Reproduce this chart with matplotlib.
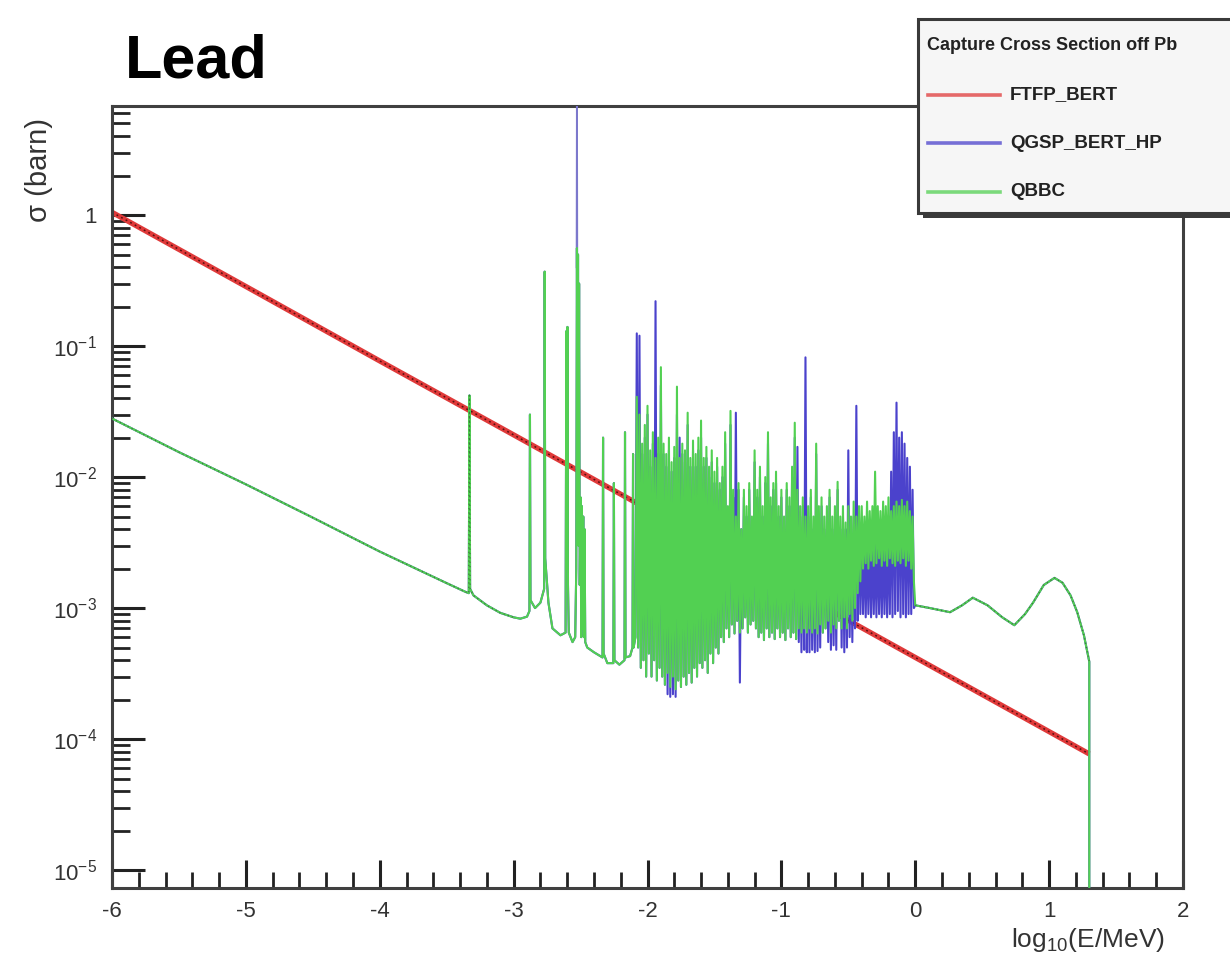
import numpy as np
import matplotlib
matplotlib.use("Agg")
import matplotlib.pyplot as plt
from matplotlib.ticker import MultipleLocator, FixedLocator, NullFormatter, FuncFormatter
from matplotlib.lines import Line2D
from matplotlib.patches import Rectangle

plt.rcParams['font.family'] = ['Liberation Sans', 'DejaVu Sans']
plt.rcParams['axes.unicode_minus'] = False
plt.rcParams['mathtext.fontset'] = 'custom'
plt.rcParams['mathtext.rm'] = 'Liberation Sans'
plt.rcParams['mathtext.it'] = 'Liberation Sans:italic'
plt.rcParams['mathtext.default'] = 'regular'

# ---------------- data: log10(E/MeV) and sigma in barn ----------------
# FTFP_BERT: smooth 1/v-like capture cross section
ftfp_x = [-6.0, -5.0, -4.0, -3.0, -2.0, -1.0, 0.0, 1.0, 1.3]
ftfp_y = [1.05, 0.285, 0.077, 0.021, 0.0057, 0.00155, 0.00042, 0.000114, 0.000077]

# thermal / epithermal part common to QGSP_BERT_HP and QBBC
low_x = [-6.0, -5.5, -5.0, -4.5, -4.0, -3.5, -3.36, -3.335, -3.33, -3.325,
         -3.30, -3.2, -3.1, -3.0]
low_y = [0.028, 0.0155, 0.0088, 0.0049, 0.0027, 0.00155, 0.00133, 0.0013, 0.042, 0.0014,
         0.00125, 0.00105, 0.00092, 0.00085]

# first resolved resonances, common to both lists
shared_x = [-2.95, -2.90, -2.882, -2.878, -2.874, -2.84, -2.80, -2.772, -2.768, -2.764,
            -2.74, -2.71, -2.65, -2.612, -2.606, -2.602, -2.598, -2.594, -2.588, -2.56,
            -2.54, -2.532, -2.527, -2.523, -2.519, -2.515, -2.511, -2.506, -2.500, -2.495,
            -2.490, -2.485, -2.480, -2.475, -2.470, -2.465, -2.45, -2.40, -2.336, -2.332,
            -2.328, -2.30, -2.255, -2.251, -2.247, -2.21, -2.172, -2.168, -2.164, -2.13,
            -2.112, -2.108, -2.104, -2.09]
shared_y = [8.3e-4, 8.6e-4, 9.5e-4, 0.03, 1.15e-3, 1.0e-3, 1.1e-3, 1.4e-3, 0.37, 2.4e-3,
            1.1e-3, 7.0e-4, 6.2e-4, 6.5e-4, 0.13, 2.0e-3, 0.14, 1.5e-3, 6.5e-4, 5.5e-4,
            6.0e-4, 2.0e-3, 0.56, 4.0e-3, 0.50, 3.0e-3, 0.30, 1.5e-3, 7.0e-3, 6.0e-4,
            6.0e-3, 7.0e-4, 5.0e-3, 6.0e-4, 4.0e-3, 5.5e-4, 5.0e-4, 4.6e-4, 4.2e-4, 0.020,
            4.5e-4, 3.8e-4, 3.8e-4, 9.0e-3, 4.0e-4, 3.7e-4, 4.0e-4, 0.022, 4.2e-4, 4.3e-4,
            5.0e-4, 0.015, 5.0e-4, 6.0e-4]

# QGSP_BERT_HP narrow resonance at -2.527
qgsp_spike_x = [-2.529, -2.527, -2.525]
qgsp_spike_y = [0.4, 7.0, 0.4]

# dense resonance region, sampled on a common energy grid
res_c_x = [-2.08, -2.07, -2.06, -2.05, -2.04, -2.03, -2.02, -2.01, -2.00, -1.99,
           -1.98, -1.97, -1.96, -1.95, -1.94, -1.93, -1.92, -1.91, -1.90, -1.89,
           -1.88, -1.87, -1.86, -1.85, -1.84, -1.83, -1.82, -1.81, -1.80, -1.79,
           -1.78, -1.77, -1.76, -1.75, -1.74, -1.73, -1.72, -1.71, -1.70, -1.69,
           -1.68, -1.67, -1.66, -1.65, -1.64, -1.63, -1.62, -1.61]
qbbc_c_y = [0.041, 5e-4, 0.03, 3.5e-4, 0.018, 4e-4, 0.025, 3e-4, 0.035, 4.5e-4,
            0.016, 3e-4, 0.022, 4e-4, 0.014, 2.8e-4, 0.02, 3.5e-4, 0.069, 3e-4,
            0.018, 2.6e-4, 0.015, 3.2e-4, 0.02, 2.5e-4, 0.013, 3e-4, 0.017, 2.4e-4,
            0.049, 2.8e-4, 0.014, 2.5e-4, 0.018, 3e-4, 0.016, 2.6e-4, 0.031, 3.2e-4,
            0.014, 2.7e-4, 0.019, 3.5e-4, 0.015, 3e-4, 0.02, 3.8e-4]
qgsp_c_y = [0.125, 5e-4, 0.12, 3.5e-4, 0.015, 4e-4, 0.02, 3e-4, 0.03, 4.5e-4,
            0.012, 3e-4, 0.018, 4e-4, 0.22, 2.8e-4, 0.015, 3.5e-4, 0.05, 3e-4,
            0.015, 2.6e-4, 0.012, 2.2e-4, 0.016, 2.1e-4, 0.011, 2.2e-4, 0.014, 2.1e-4,
            0.03, 2.8e-4, 0.02, 2.5e-4, 0.015, 3e-4, 0.013, 2.6e-4, 0.025, 3.2e-4,
            0.012, 2.7e-4, 0.016, 3.5e-4, 0.012, 3e-4, 0.016, 3.8e-4]

res_d_x = [-1.60, -1.59, -1.58, -1.57, -1.56, -1.55, -1.54, -1.53, -1.52, -1.51,
           -1.50, -1.49, -1.48, -1.47, -1.46, -1.45, -1.44, -1.43, -1.42, -1.41,
           -1.40, -1.39, -1.38, -1.37, -1.36, -1.35, -1.34, -1.33, -1.32, -1.31,
           -1.30, -1.29, -1.28, -1.27, -1.26, -1.25, -1.24, -1.23, -1.22, -1.21]
qbbc_d_y = [0.027, 3.5e-4, 0.014, 4e-4, 0.017, 3.2e-4, 0.012, 4.5e-4, 0.016, 3.8e-4,
            0.011, 5e-4, 0.014, 4.5e-4, 0.009, 6e-4, 0.012, 5.5e-4, 0.022, 7e-4,
            0.006, 6e-4, 0.032, 7.5e-4, 0.008, 6.4e-4, 0.005, 8e-4, 0.009, 6.5e-4,
            0.004, 7e-4, 0.008, 8.5e-4, 0.006, 6.5e-4, 0.009, 7.5e-4, 0.005, 8e-4]
qgsp_d_y = [0.02, 3.5e-4, 0.012, 4e-4, 0.014, 3.2e-4, 0.01, 4.5e-4, 0.013, 3.8e-4,
            0.009, 5e-4, 0.012, 4.5e-4, 0.008, 6e-4, 0.01, 5.5e-4, 0.018, 7e-4,
            0.005, 6e-4, 0.025, 7.5e-4, 0.007, 6.4e-4, 0.031, 8e-4, 0.008, 2.7e-4,
            0.004, 7e-4, 0.007, 8.5e-4, 0.005, 6.5e-4, 0.008, 7.5e-4, 0.004, 8e-4]

res_e_x = [-1.20, -1.19, -1.18, -1.17, -1.16, -1.15, -1.14, -1.13, -1.12, -1.11,
           -1.10, -1.09, -1.08, -1.07, -1.06, -1.05, -1.04, -1.03, -1.02, -1.01,
           -1.00, -0.99, -0.98, -0.97, -0.96, -0.95, -0.94, -0.93, -0.92, -0.91,
           -0.90, -0.89, -0.88, -0.87, -0.86, -0.85, -0.84, -0.83, -0.82, -0.81]
qbbc_e_y = [0.016, 7e-4, 0.008, 6e-4, 0.012, 6.5e-4, 0.006, 5.7e-4, 0.01, 7e-4,
            0.022, 6e-4, 0.007, 6.5e-4, 0.009, 5.8e-4, 0.011, 7e-4, 0.006, 6e-4,
            0.008, 6.5e-4, 0.005, 5.7e-4, 0.009, 7e-4, 0.007, 6e-4, 0.012, 6.5e-4,
            0.026, 5.8e-4, 0.008, 7e-4, 0.006, 6.5e-4, 0.007, 7e-4, 0.005, 6.5e-4]
qgsp_e_y = [0.013, 7e-4, 0.007, 6e-4, 0.01, 6.5e-4, 0.005, 5.7e-4, 0.009, 7e-4,
            0.018, 6e-4, 0.006, 6.5e-4, 0.008, 5.8e-4, 0.009, 7e-4, 0.005, 6e-4,
            0.007, 6.5e-4, 0.004, 5.7e-4, 0.008, 7e-4, 0.006, 6e-4, 0.01, 6.5e-4,
            0.02, 5.8e-4, 0.017, 5.5e-4, 0.005, 4.6e-4, 0.006, 4.8e-4, 0.082, 4.6e-4]

res_f_x = [-0.80, -0.79, -0.78, -0.77, -0.76, -0.75, -0.74, -0.73, -0.72, -0.71,
           -0.70, -0.69, -0.68, -0.67, -0.66, -0.65, -0.64, -0.63, -0.62, -0.61,
           -0.60, -0.59, -0.58, -0.57, -0.56, -0.55, -0.54, -0.53, -0.52, -0.51,
           -0.50, -0.49, -0.48, -0.47, -0.46, -0.45, -0.44, -0.43, -0.42, -0.41]
qbbc_f_y = [0.006, 7e-4, 0.008, 6.5e-4, 0.005, 7e-4, 0.018, 6.4e-4, 0.006, 7.5e-4,
            0.007, 6.5e-4, 0.005, 7e-4, 0.006, 8e-4, 0.008, 6.5e-4, 0.005, 7.5e-4,
            0.006, 7e-4, 0.0092, 8e-4, 0.005, 7e-4, 0.006, 8.5e-4, 0.0045, 7e-4,
            0.006, 9e-4, 0.005, 8e-4, 0.0065, 1.0e-3, 0.005, 1.3e-3, 0.006, 1.6e-3]
qgsp_f_y = [0.005, 4.6e-4, 0.007, 4.8e-4, 0.004, 4.6e-4, 0.015, 4.7e-4, 0.005, 5e-4,
            0.006, 6.5e-4, 0.004, 7e-4, 0.005, 5.5e-4, 0.007, 4.8e-4, 0.004, 5.2e-4,
            0.005, 4.8e-4, 0.008, 8e-4, 0.004, 5e-4, 0.005, 4.6e-4, 0.004, 5e-4,
            0.016, 6e-4, 0.004, 5.5e-4, 0.005, 7e-4, 0.035, 8e-4, 0.005, 9e-4]

res_g_x = [-0.40, -0.39, -0.38, -0.37, -0.36, -0.35, -0.34, -0.33, -0.32, -0.31,
           -0.30, -0.29, -0.28, -0.27, -0.26, -0.25, -0.24, -0.23, -0.22, -0.21,
           -0.20, -0.19, -0.18, -0.17, -0.16, -0.15, -0.14, -0.13, -0.12, -0.11,
           -0.10, -0.09, -0.08, -0.07, -0.06, -0.05, -0.04, -0.03, -0.02, -0.01]
qbbc_g_y = [0.006, 2.0e-3, 0.005, 2.2e-3, 0.0065, 2.0e-3, 0.0055, 2.3e-3, 0.006, 2.1e-3,
            0.011, 2.2e-3, 0.006, 2.4e-3, 0.0055, 2.1e-3, 0.0065, 2.3e-3, 0.006, 2.1e-3,
            0.007, 2.4e-3, 0.0055, 2.2e-3, 0.006, 2.1e-3, 0.0065, 2.3e-3, 0.006, 2.2e-3,
            0.0067, 2.4e-3, 0.006, 2.1e-3, 0.0065, 2.3e-3, 0.0055, 2.0e-3, 0.005, 1.6e-3]
qgsp_g_y = [0.004, 9e-4, 0.0037, 8.5e-4, 0.0035, 9e-4, 0.004, 8.5e-4, 0.0037, 9e-4,
            0.0035, 8.5e-4, 0.004, 9e-4, 0.0037, 8.5e-4, 0.004, 9e-4, 0.0037, 8.5e-4,
            0.005, 9e-4, 0.011, 8.5e-4, 0.022, 9e-4, 0.037, 9.5e-4, 0.02, 8.5e-4,
            0.022, 9e-4, 0.018, 8.5e-4, 0.014, 9e-4, 0.012, 9e-4, 0.008, 1e-3]

# fast-neutron region, common to both lists
high_x = [0.0, 0.11, 0.26, 0.35, 0.43, 0.54, 0.65, 0.74, 0.82, 0.88,
          0.96, 1.04, 1.10, 1.16, 1.21, 1.26, 1.30, 1.30]
high_y = [1.05e-3, 1.0e-3, 9.3e-4, 1.05e-3, 1.2e-3, 1.05e-3, 8.5e-4, 7.4e-4, 9.0e-4, 1.1e-3,
          1.5e-3, 1.7e-3, 1.56e-3, 1.25e-3, 9.3e-4, 6.2e-4, 3.9e-4, 1e-6]

series_names = ['FTFP_BERT', 'QGSP_BERT_HP', 'QBBC']
series_colors = ['#e03a3a', '#4b42cc', '#52d052']
legend_title = 'Capture Cross Section off Pb'
y_decades = [1e-5, 1e-4, 1e-3, 1e-2, 1e-1, 1.0]

# ---------------- assemble the two resonance curves ----------------
res_x = res_c_x + res_d_x + res_e_x + res_f_x + res_g_x
qbbc_x = low_x + shared_x + res_x + high_x
qbbc_y = low_y + shared_y + qbbc_c_y + qbbc_d_y + qbbc_e_y + qbbc_f_y + qbbc_g_y + high_y
qgsp_x = low_x + shared_x + res_x + high_x
qgsp_y = low_y + shared_y + qgsp_c_y + qgsp_d_y + qgsp_e_y + qgsp_f_y + qgsp_g_y + high_y

# ---------------- figure ----------------
W, H = 1230, 963
PX = 72 / 100  # points per pixel at 100 dpi
fig = plt.figure(figsize=(W / 100, H / 100), dpi=100)
ax = fig.add_axes([112 / W, 1 - 888 / H, (1183 - 112) / W, (888 - 106) / H])

ax.plot(ftfp_x, ftfp_y, color=series_colors[0], lw=3.8, zorder=2, solid_capstyle='butt')
ax.plot(ftfp_x, ftfp_y, color='#5a1010', lw=1.1, ls=(0, (1.2, 2.2)), zorder=2.1)
ax.plot(qgsp_x, qgsp_y, color=series_colors[1], lw=1.5, zorder=3)
ax.plot(qgsp_spike_x, qgsp_spike_y, color='#7c78cc', lw=1.4, zorder=3)
ax.plot(qbbc_x, qbbc_y, color=series_colors[2], lw=1.5, zorder=4)
ax.plot(low_x, low_y, color='#3d7a3d', lw=0.9, ls=(0, (1, 2.5)), zorder=4.1)
ax.plot(high_x[:-1], high_y[:-1], color='#3d7a3d', lw=0.9, ls=(0, (1, 2.5)), zorder=4.1)

ax.set_xlim(-6, 2)
ax.set_yscale('log')
ax.set_ylim(7.3e-6, 6.8)

ax.xaxis.set_major_locator(MultipleLocator(1))
ax.xaxis.set_minor_locator(MultipleLocator(0.2))
ax.yaxis.set_major_locator(FixedLocator(y_decades))
minor_y = [m * d for d in y_decades for m in range(2, 10) if m * d < 6.8]
ax.yaxis.set_minor_locator(FixedLocator(minor_y))
ax.yaxis.set_minor_formatter(NullFormatter())


def decade_label(v, pos):
    e = int(round(np.log10(v)))
    return '1' if e == 0 else r'$10^{%d}$' % e


ax.yaxis.set_major_formatter(FuncFormatter(decade_label))
ax.xaxis.set_major_formatter(FuncFormatter(lambda v, p: '%d' % round(v)))

ax.tick_params(axis='both', which='both', direction='in', top=False, right=False,
               color='#222222', labelcolor='#333333', labelsize=16)
ax.tick_params(axis='x', which='major', length=28 * PX, width=2.2, pad=9)
ax.tick_params(axis='x', which='minor', length=16 * PX, width=2.0)
ax.tick_params(axis='y', which='major', length=33 * PX, width=2.2, pad=11)
ax.tick_params(axis='y', which='minor', length=18 * PX, width=2.0)
for sp in ax.spines.values():
    sp.set_linewidth(2.2)
    sp.set_color('#404040')

# axis titles and heading
fig.text(1165 / W, 1 - 947 / H, r'log$_{10}$(E/MeV)', ha='right', va='baseline',
         fontsize=19, color='#333333')
fig.text(39 / W, 1 - 118 / H, 'σ (barn)', rotation=90, ha='center', va='top',
         fontsize=21, color='#333333')
fig.text(125 / W, 1 - 78 / H, 'Lead', ha='left', va='baseline', fontsize=44,
         fontweight='bold', color='black')

# legend box with shadow
fig.add_artist(Rectangle((923 / W, 1 - 218 / H), (1250 - 923) / W, (218 - 24) / H,
                         transform=fig.transFigure, facecolor='#3a3a3a',
                         edgecolor='none', zorder=10))
fig.add_artist(Rectangle((918 / W, 1 - 213 / H), (1250 - 918) / W, (213 - 19) / H,
                         transform=fig.transFigure, facecolor='#f6f6f6',
                         edgecolor='#3a3a3a', lw=2.2, zorder=11))
fig.text(927 / W, 1 - 45 / H, legend_title, ha='left', va='center', fontsize=13,
         fontweight='bold', color='#222222', zorder=12)
entry_rows = [95, 143, 192]
for name, col, row in zip(series_names, series_colors, entry_rows):
    fig.add_artist(Line2D([928 / W, 1000 / W], [1 - row / H] * 2, transform=fig.transFigure,
                          color=col, lw=2.6, alpha=0.75, zorder=12))
    fig.text(1010 / W, 1 - row / H, name, ha='left', va='center', fontsize=13.5,
             fontweight='bold', color='#222222', zorder=12)

fig.savefig('out.png', dpi=100, facecolor='white')
